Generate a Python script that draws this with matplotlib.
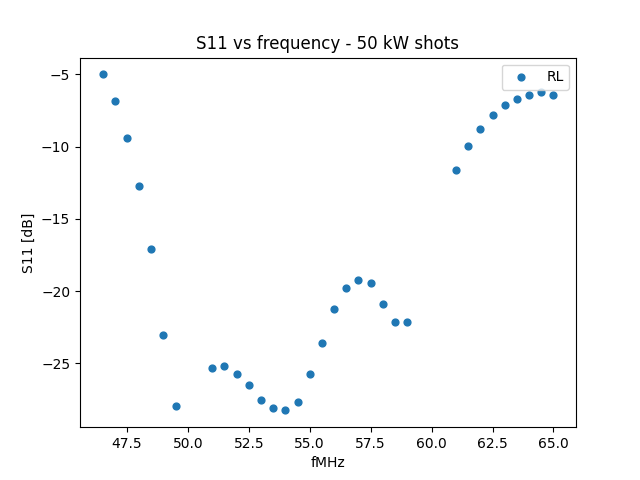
import numpy as np
import pandas as pd
import matplotlib
matplotlib.use('Agg')
import matplotlib.pyplot as plt

freq = [46.5, 47.0, 47.5, 48.0, 48.5, 49.0, 49.5,
        51.0, 51.5, 52.0, 52.5, 53.0, 53.5, 54.0, 54.5, 55.0, 55.5,
        56.0, 56.5, 57.0, 57.5, 58.0, 58.5, 59.0,
        61.0, 61.5, 62.0, 62.5, 63.0, 63.5, 64.0, 64.5, 65.0]
rl = [-5.0, -6.87, -9.43, -12.75, -17.1, -23.0, -27.98,
      -25.35, -25.2, -25.7, -26.5, -27.5, -28.05, -28.25, -27.7, -25.75, -23.6,
      -21.2, -19.75, -19.2, -19.4, -20.9, -22.15, -22.1,
      -11.6, -9.95, -8.75, -7.8, -7.15, -6.7, -6.4, -6.25, -6.4]

df = pd.DataFrame({'fMHz': freq, 'RL': rl})

fig, ax = plt.subplots(figsize=(6.4, 4.8), dpi=100)
ax.scatter(df['fMHz'], df['RL'], s=24, label='RL')
ax.set_xlabel('fMHz')
ax.set_ylabel('S11 [dB]')
ax.set_title('S11 vs frequency - 50 kW shots')
ax.legend()
fig.savefig('out.png')
